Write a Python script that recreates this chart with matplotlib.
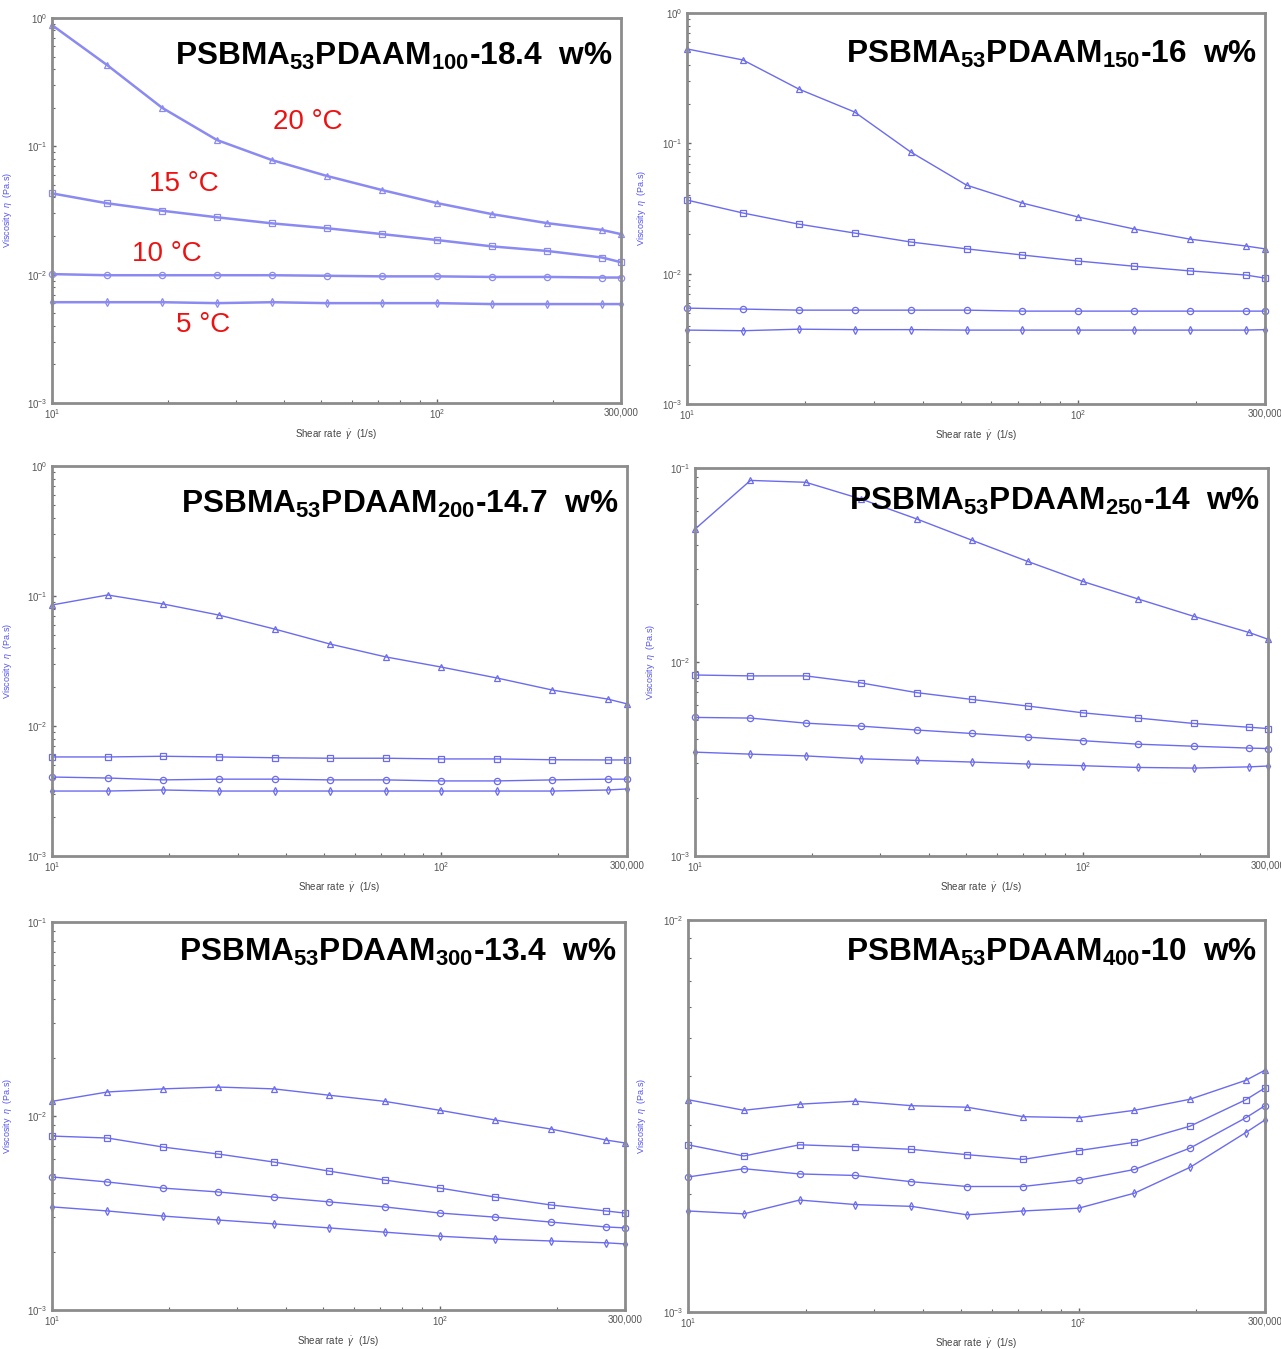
import matplotlib
matplotlib.use("Agg")
import matplotlib.pyplot as plt
from matplotlib.ticker import FixedLocator, FixedFormatter, LogLocator, NullFormatter

# shear rates (1/s), same for every panel
shear = [10, 13.9, 19.3, 26.8, 37.3, 51.8, 72.0, 100, 139, 193, 268, 300]

# viscosity (Pa.s) per panel: 20, 15, 10, 5 degC
p100_t20 = [0.88, 0.43, 0.20, 0.112, 0.078, 0.0587, 0.0456, 0.0361, 0.0296, 0.0252, 0.0223, 0.0207]
p100_t15 = [0.0430, 0.0360, 0.0315, 0.0280, 0.0251, 0.0230, 0.0207, 0.0186, 0.0166, 0.0153, 0.0136, 0.0125]
p100_t10 = [0.0101, 0.0099, 0.0099, 0.0099, 0.0099, 0.0098, 0.0097, 0.0097, 0.0096, 0.0096, 0.0095, 0.0095]
p100_t5 = [0.0061, 0.0061, 0.0061, 0.0060, 0.0061, 0.0060, 0.0060, 0.0060, 0.0059, 0.0059, 0.0059, 0.0059]

p150_t20 = [0.53, 0.436, 0.261, 0.174, 0.0858, 0.0478, 0.0348, 0.0272, 0.0220, 0.0184, 0.0163, 0.0155]
p150_t15 = [0.0367, 0.0292, 0.0240, 0.0205, 0.0175, 0.0155, 0.0139, 0.0125, 0.0114, 0.0105, 0.00976, 0.00925]
p150_t10 = [0.00544, 0.00535, 0.00525, 0.00525, 0.00525, 0.00525, 0.00516, 0.00516, 0.00516, 0.00516, 0.00516, 0.00516]
p150_t5 = [0.00369, 0.00365, 0.00375, 0.00372, 0.00372, 0.00369, 0.00369, 0.00369, 0.00369, 0.00369, 0.00369, 0.00372]

p200_t20 = [0.0853, 0.1018, 0.0868, 0.0714, 0.0557, 0.0427, 0.0340, 0.0284, 0.0234, 0.0189, 0.0161, 0.0148]
p200_t15 = [0.00578, 0.00578, 0.00585, 0.00578, 0.00570, 0.00565, 0.00565, 0.00558, 0.00558, 0.00550, 0.00548, 0.00548]
p200_t10 = [0.00405, 0.00398, 0.00385, 0.00390, 0.00390, 0.00385, 0.00385, 0.00378, 0.00378, 0.00385, 0.00390, 0.00390]
p200_t5 = [0.00316, 0.00316, 0.00322, 0.00316, 0.00316, 0.00316, 0.00316, 0.00316, 0.00316, 0.00316, 0.00322, 0.00328]

p250_t20 = [0.0484, 0.0863, 0.0844, 0.0692, 0.0546, 0.0424, 0.0330, 0.0260, 0.0211, 0.0172, 0.0142, 0.0131]
p250_t15 = [0.00857, 0.00848, 0.00848, 0.00780, 0.00695, 0.00641, 0.00593, 0.00547, 0.00514, 0.00482, 0.00461, 0.00454]
p250_t10 = [0.00518, 0.00514, 0.00484, 0.00467, 0.00446, 0.00428, 0.00410, 0.00393, 0.00377, 0.00368, 0.00360, 0.00358]
p250_t5 = [0.00343, 0.00335, 0.00328, 0.00317, 0.00311, 0.00305, 0.00298, 0.00292, 0.00286, 0.00284, 0.00288, 0.00291]

p300_t20 = [0.0119, 0.0133, 0.0138, 0.0141, 0.0138, 0.0128, 0.0119, 0.0107, 0.00953, 0.00857, 0.00752, 0.00726]
p300_t15 = [0.00788, 0.00770, 0.00692, 0.00637, 0.00579, 0.00520, 0.00468, 0.00425, 0.00382, 0.00348, 0.00324, 0.00316]
p300_t10 = [0.00485, 0.00457, 0.00425, 0.00406, 0.00382, 0.00361, 0.00340, 0.00316, 0.00301, 0.00284, 0.00268, 0.00265]
p300_t5 = [0.00340, 0.00324, 0.00305, 0.00291, 0.00278, 0.00265, 0.00252, 0.00240, 0.00232, 0.00227, 0.00222, 0.00219]

p400_t20 = [0.00348, 0.00327, 0.00339, 0.00345, 0.00336, 0.00333, 0.00315, 0.00313, 0.00327, 0.00349, 0.00390, 0.00414]
p400_t15 = [0.00267, 0.00250, 0.00267, 0.00264, 0.00260, 0.00252, 0.00245, 0.00258, 0.00271, 0.00298, 0.00348, 0.00373]
p400_t10 = [0.00221, 0.00232, 0.00225, 0.00223, 0.00215, 0.00209, 0.00209, 0.00217, 0.00231, 0.00262, 0.00313, 0.00336]
p400_t5 = [0.00181, 0.00178, 0.00193, 0.00188, 0.00186, 0.00177, 0.00181, 0.00184, 0.00201, 0.00234, 0.00287, 0.00309]

titles = [
    r"PSBMA$_{\mathbf{53}}$PDAAM$_{\mathbf{100}}$-18.4  w%",
    r"PSBMA$_{\mathbf{53}}$PDAAM$_{\mathbf{150}}$-16  w%",
    r"PSBMA$_{\mathbf{53}}$PDAAM$_{\mathbf{200}}$-14.7  w%",
    r"PSBMA$_{\mathbf{53}}$PDAAM$_{\mathbf{250}}$-14  w%",
    r"PSBMA$_{\mathbf{53}}$PDAAM$_{\mathbf{300}}$-13.4  w%",
    r"PSBMA$_{\mathbf{53}}$PDAAM$_{\mathbf{400}}$-10  w%",
]
temp_labels = ["20 °C", "15 °C", "10 °C", "5 °C"]
xtick_vals = [10, 100, 300]
xtick_labels = [r"10$^{1}$", r"10$^{2}$", "300,000"]

panels = [
    [p100_t20, p100_t15, p100_t10, p100_t5],
    [p150_t20, p150_t15, p150_t10, p150_t5],
    [p200_t20, p200_t15, p200_t10, p200_t5],
    [p250_t20, p250_t15, p250_t10, p250_t5],
    [p300_t20, p300_t15, p300_t10, p300_t5],
    [p400_t20, p400_t15, p400_t10, p400_t5],
]

W, H = 1281, 1349
# axes boxes in pixels: left, right, top, bottom ; y-limits ; title centre y ; ylabel x
boxes = [
    (52, 621, 18, 403, (1e-3, 1e0), 56, 14),
    (687, 1265, 13, 404, (1e-3, 1e0), 54, 648),
    (52, 627, 466, 856, (1e-3, 1e0), 504, 14),
    (695, 1268, 468, 856, (1e-3, 1e-1), 501, 657),
    (52, 625, 922, 1310, (1e-3, 1e-1), 952, 14),
    (688, 1265, 920, 1312, (1e-3, 1e-2), 952, 648),
]
markers = ["^", "s", "o", "d"]

plt.rcParams['font.family'] = ['Liberation Sans', 'DejaVu Sans']
plt.rcParams['mathtext.fontset'] = 'custom'
plt.rcParams['mathtext.rm'] = 'Liberation Sans'
plt.rcParams['mathtext.it'] = 'Liberation Sans:italic'
plt.rcParams['mathtext.bf'] = 'Liberation Sans:bold'

fig = plt.figure(figsize=(W / 100, H / 100), dpi=100)

for i, (x0, x1, y0, y1, ylim, ty, ylx) in enumerate(boxes):
    ax = fig.add_axes([x0 / W, 1 - y1 / H, (x1 - x0) / W, (y1 - y0) / H])
    first = (i == 0)
    col = "#8a8af2" if first else "#6b6bf0"
    lw = 1.8 if first else 1.0
    for series, mk in zip(panels[i], markers):
        ax.plot(shear, series, color=col, lw=lw, marker=mk, ms=4.5 if mk != "d" else 4,
                mfc="none", mec=col, mew=0.9, clip_on=False)
    ax.set_xscale("log")
    ax.set_yscale("log")
    ax.set_xlim(10, 300)
    ax.set_ylim(*ylim)

    ax.xaxis.set_major_locator(FixedLocator(xtick_vals))
    ax.xaxis.set_major_formatter(FixedFormatter(xtick_labels))
    ax.xaxis.set_minor_locator(FixedLocator([20, 30, 40, 50, 60, 70, 80, 90, 200]))
    ax.xaxis.set_minor_formatter(NullFormatter())
    ax.yaxis.set_major_locator(LogLocator(base=10))
    ax.yaxis.set_minor_locator(LogLocator(base=10, subs=range(2, 10)))
    ax.yaxis.set_minor_formatter(NullFormatter())
    ax.tick_params(which="both", direction="in", color="#666666", labelsize=7,
                   labelcolor="#555555", pad=3)
    ax.tick_params(which="major", length=3, width=1)
    ax.tick_params(which="minor", length=2, width=0.8)
    for sp in ax.spines.values():
        sp.set_color("#8c8c8c")
        sp.set_linewidth(2)

    ax.set_xlabel(r"Shear rate  $\dot{\gamma}$  (1/s)", fontsize=7, color="#444444")
    ax.xaxis.set_label_coords(0.5, -24 / (y1 - y0))
    ax.set_ylabel(r"Viscosity  $\eta$  (Pa.s)", fontsize=6.5, color="#5555ee")
    ax.yaxis.set_label_coords((ylx - x0) / (x1 - x0), 0.5)

    fig.text((x1 - 8) / W, 1 - ty / H, titles[i], ha="right", va="center",
             fontsize=22.8, fontweight="bold", color="black")

# temperature labels on the first panel
temp_pos = [(308, 122), (184, 184), (167, 254), (203, 325)]
for lab, (px, py) in zip(temp_labels, temp_pos):
    fig.text(px / W, 1 - py / H, lab, ha="center", va="center", fontsize=20, color="#ee1111")

fig.savefig("out.png", dpi=100)
